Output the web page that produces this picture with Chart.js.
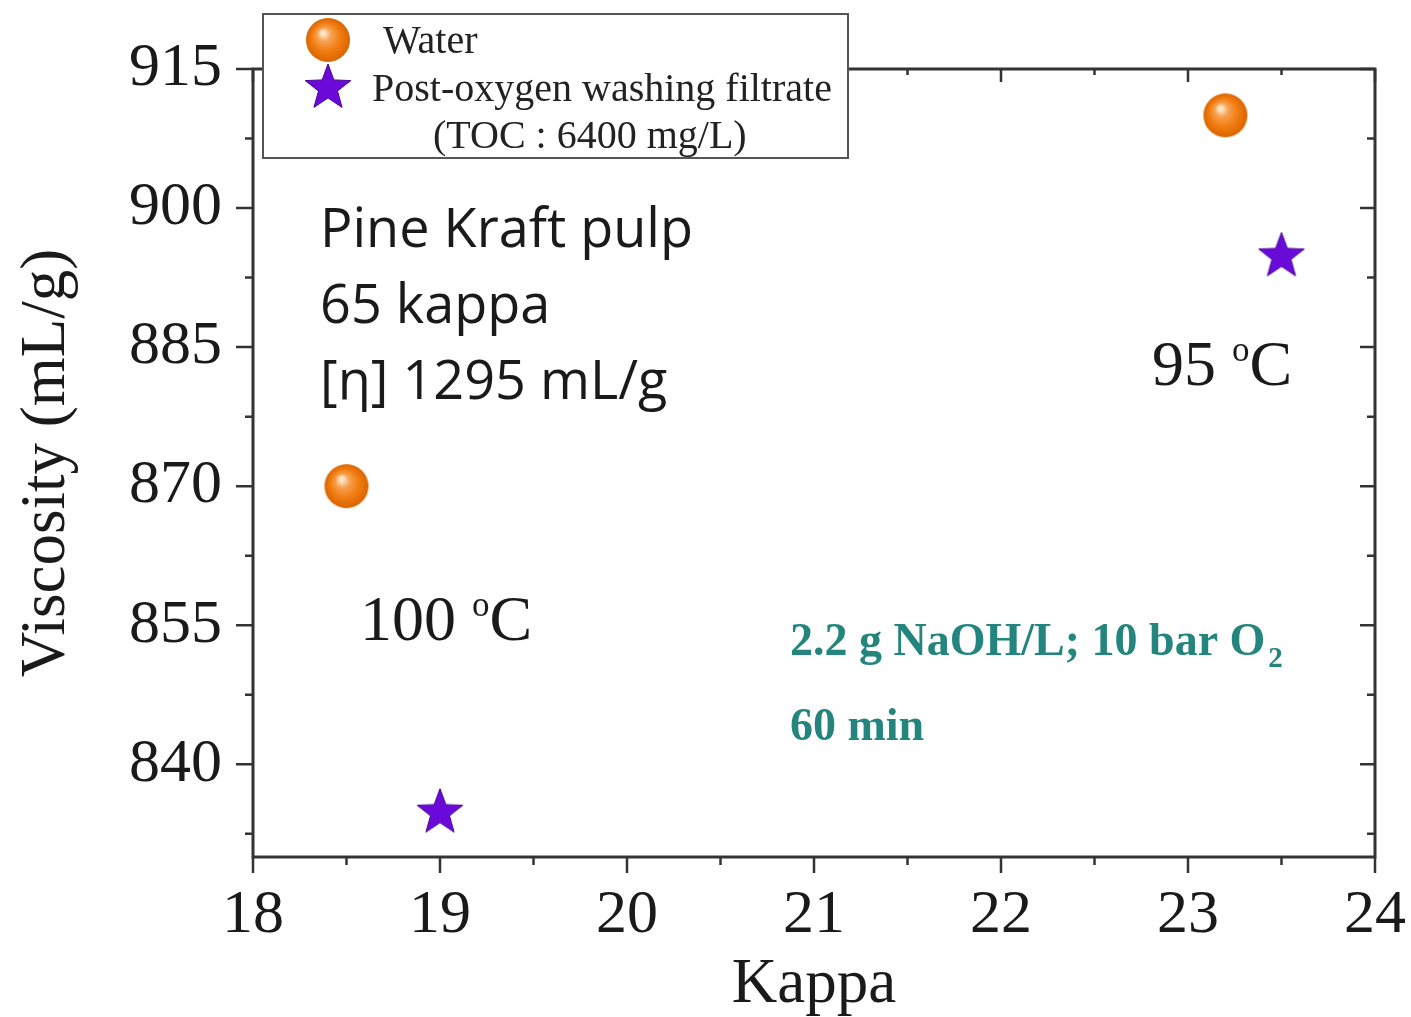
<!DOCTYPE html>
<html>
<head>
<meta charset="utf-8">
<script src="https://cdn.jsdelivr.net/npm/chart.js@4.4.1/dist/chart.umd.min.js"></script>
<style>
html,body{margin:0;padding:0;background:#fff;}
</style>
</head>
<body>
<canvas id="myChart" width="1411" height="1017"></canvas>
<script>
// data
let waterKappa = [18.5, 23.2];
let waterVisc = [870, 910];
let filtrateKappa = [19, 23.5];
let filtrateVisc = [835, 895];
let xTicks = [18, 19, 20, 21, 22, 23, 24];
let yTicks = [840, 855, 870, 885, 900, 915];
let infoLines = ['Pine Kraft pulp', '65 kappa', '[\u03b7] 1295 mL/g'];

let serif = '"Liberation Serif", "Times New Roman", serif';

// orange ball marker
function makeBall(){
  let c = document.createElement('canvas');
  c.width = 48; c.height = 48;
  let g = c.getContext('2d');
  let grad = g.createRadialGradient(19, 17, 2, 24, 24, 22);
  grad.addColorStop(0, '#fde6c8');
  grad.addColorStop(0.25, '#f8a050');
  grad.addColorStop(0.6, '#f27e12');
  grad.addColorStop(1, '#d96400');
  g.fillStyle = grad;
  g.beginPath(); g.arc(24, 24, 22, 0, Math.PI*2); g.fill();
  return c;
}
// filled purple star marker
function makeStar(){
  let c = document.createElement('canvas');
  c.width = 50; c.height = 50;
  let g = c.getContext('2d');
  g.fillStyle = '#6a0ad8';
  g.strokeStyle = '#4a0699';
  g.lineWidth = 1;
  g.beginPath();
  for(let i=0;i<10;i++){
    let r = i%2==0 ? 24 : 10;
    let a = -Math.PI/2 + i*Math.PI/5;
    let x = 25 + r*Math.cos(a), y = 27 + r*Math.sin(a);
    if(i==0) g.moveTo(x,y); else g.lineTo(x,y);
  }
  g.closePath(); g.fill(); g.stroke();
  return c;
}
let ball = makeBall();
let star = makeStar();

function degText(ctx, num, x, y, size){
  ctx.font = size + 'px ' + serif;
  ctx.fillText(num + ' ', x, y);
  let w = ctx.measureText(num + ' ').width;
  ctx.font = Math.round(size*0.55) + 'px ' + serif;
  ctx.fillText('o', x + w, y - size*0.38);
  let w2 = ctx.measureText('o').width;
  ctx.font = size + 'px ' + serif;
  ctx.fillText('C', x + w + w2, y);
}

let frame = {
  id: 'frame',
  afterDraw(chart){
    let ctx = chart.ctx, a = chart.chartArea;
    let xs = chart.scales.x, ys = chart.scales.y;
    ctx.save();
    ctx.strokeStyle = '#333';
    ctx.lineWidth = 3;
    ctx.strokeRect(a.left, a.top, a.right - a.left, a.bottom - a.top);
    ctx.lineWidth = 2.5;
    ctx.beginPath();
    xTicks.forEach(function(v, i){
      let px = xs.getPixelForValue(v);
      ctx.moveTo(px, a.bottom); ctx.lineTo(px, a.bottom + 16);
      ctx.moveTo(px, a.top); ctx.lineTo(px, a.top + 13);
      if(i < xTicks.length - 1){
        let m = xs.getPixelForValue((v + xTicks[i+1]) / 2);
        ctx.moveTo(m, a.bottom); ctx.lineTo(m, a.bottom + 8);
        ctx.moveTo(m, a.top); ctx.lineTo(m, a.top + 6);
      }
    });
    yTicks.forEach(function(v, i){
      let py = ys.getPixelForValue(v);
      ctx.moveTo(a.left, py); ctx.lineTo(a.left - 17, py);
      ctx.moveTo(a.right, py); ctx.lineTo(a.right - 15, py);
      let m = ys.getPixelForValue(v - 7.5);
      ctx.moveTo(a.left, m); ctx.lineTo(a.left - 8, m);
      ctx.moveTo(a.right, m); ctx.lineTo(a.right - 8, m);
    });
    ctx.stroke();
    ctx.restore();
  }
};

let notes = {
  id: 'notes',
  afterDraw(chart){
    let ctx = chart.ctx;
    ctx.save();
    ctx.textBaseline = 'alphabetic';
    ctx.textAlign = 'left';
    // legend box
    ctx.fillStyle = '#fff';
    ctx.fillRect(263, 14, 585, 144);
    ctx.strokeStyle = '#555';
    ctx.lineWidth = 2;
    ctx.strokeRect(263, 14, 585, 144);
    ctx.drawImage(ball, 328 - 24, 40 - 24);
    ctx.drawImage(star, 328 - 25, 88 - 27);
    ctx.fillStyle = '#222';
    ctx.font = '40px ' + serif;
    ctx.fillText('Water', 383, 53);
    ctx.fillText('Post-oxygen washing filtrate', 372, 101);
    ctx.fillText('(TOC : 6400 mg/L)', 433, 148);

    ctx.fillStyle = '#1a1a1a';
    ctx.font = '54px "Open Sans"';
    infoLines.forEach(function(t, i){ ctx.fillText(t, 320, 247 + i*76); });
    degText(ctx, '100', 360, 640, 64);
    degText(ctx, '95', 1152, 385, 64);

    ctx.fillStyle = '#23857d';
    ctx.font = 'bold 46px ' + serif;
    let line1 = '2.2 g NaOH/L; 10 bar O';
    ctx.fillText(line1, 790, 655);
    let w = ctx.measureText(line1).width;
    ctx.font = 'bold 29px ' + serif;
    ctx.fillText('2', 793 + w, 667);
    ctx.font = 'bold 46px ' + serif;
    ctx.fillText('60 min', 790, 740);
    ctx.restore();
  }
};

let ctx = document.getElementById('myChart');
let chart = new Chart(ctx, {
  type: 'scatter',
  data: {
    datasets: [{
      label: 'Water',
      data: waterKappa.map((k, i) => ({x: k, y: waterVisc[i]})),
      pointStyle: ball,
      clip: false
    }, {
      label: 'Post-oxygen washing filtrate (TOC : 6400 mg/L)',
      data: filtrateKappa.map((k, i) => ({x: k, y: filtrateVisc[i]})),
      pointStyle: star,
      clip: false
    }]
  },
  options: {
    responsive: false,
    animation: false,
    layout: { padding: { top: 69, right: 36, left: 0, bottom: 0 } },
    plugins: { legend: { display: false }, tooltip: { enabled: false } },
    scales: {
      x: {
        type: 'linear', min: 18, max: 24,
        afterBuildTicks: function(s){ s.ticks = xTicks.map(v => ({value: v})); },
        afterFit: function(s){ s.height = 160; s.paddingLeft = 0; s.paddingRight = 0; },
        grid: { display: false, drawTicks: false },
        border: { display: false },
        ticks: { color: '#1a1a1a', padding: 22, font: { family: serif, size: 62 } },
        title: { display: true, text: 'Kappa', color: '#1a1a1a', font: { family: serif, size: 63, lineHeight: 1 }, padding: 0 }
      },
      y: {
        type: 'linear', min: 830, max: 915,
        afterBuildTicks: function(s){ s.ticks = yTicks.map(v => ({value: v})); },
        afterFit: function(s){ s.width = 253; s.paddingTop = 0; s.paddingBottom = 0; },
        grid: { display: false, drawTicks: false },
        border: { display: false },
        ticks: { color: '#1a1a1a', padding: 31, font: { family: serif, size: 62 } },
        title: { display: true, text: 'Viscosity (mL/g)', color: '#1a1a1a', font: { family: serif, size: 63, lineHeight: 1 }, padding: { top: 16 } }
      }
    }
  },
  plugins: [frame, notes]
});
</script>
</body>
</html>
